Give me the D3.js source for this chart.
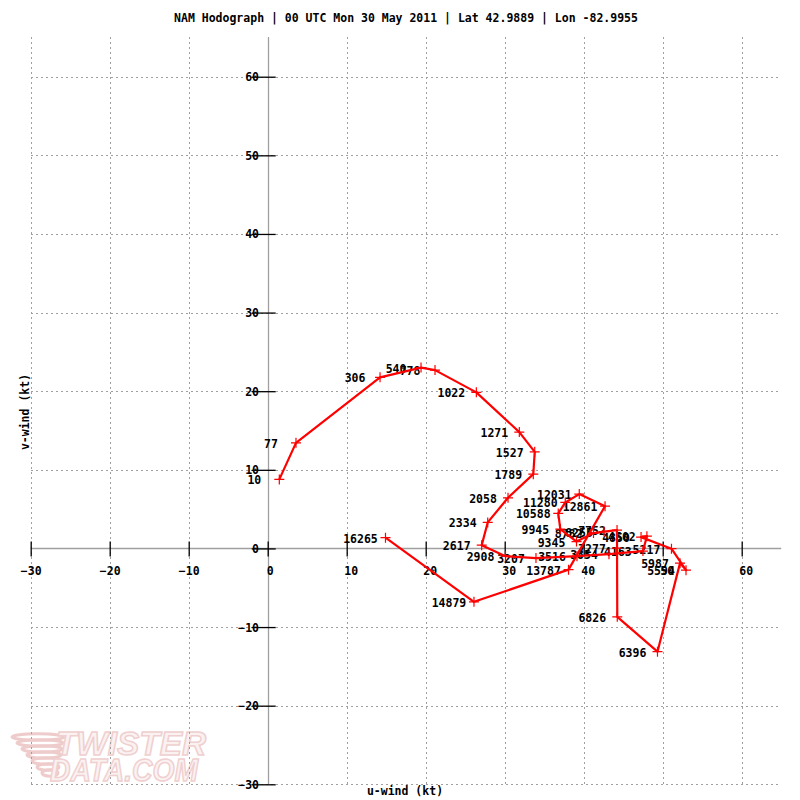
<!DOCTYPE html>
<html><head><meta charset="utf-8">
<script src="https://cdn.jsdelivr.net/npm/d3@7"></script>
<style>
body{margin:0;background:#fff}
svg text{font-family:"DejaVu Sans Mono",monospace;font-weight:bold;font-size:11.5px;fill:#000}
</style>
</head><body>
<svg id="c" width="800" height="800"></svg>
<script>
// ---- data ----
const heights = ["10","77","306","540","778","1022","1271","1527","1789","2058","2334","2617","2908","3207","3516","3854","4163","4502","4850","5217","5594","5987","6396","6826","7277","7752","8255","8782","9345","9945","10588","11280","12031","12861","13787","14879","16265"];
const uWind = [1.47,3.58,14.22,19.41,21.18,26.41,31.85,33.8,33.62,30.42,27.85,27.09,30.1,33.96,39.15,43.2,47.5,48.0,47.26,51.11,52.95,52.19,49.34,44.25,44.22,44.22,42.57,41.24,39.09,37.04,36.78,37.67,39.44,42.7,38.08,26.11,14.91];
const vWind = [8.78,13.43,21.76,23.0,22.68,19.85,14.8,12.29,9.45,6.44,3.31,0.42,-0.98,-1.23,-0.98,-0.73,-0.34,1.56,1.44,-0.03,-2.76,-1.87,-13.13,-8.7,0.04,2.33,2.14,1.95,0.87,2.46,4.45,5.85,6.91,5.38,-2.7,-6.79,1.37];
const xTicks = [-30,-20,-10,0,10,20,30,40,50,60];
const yTicks = [-30,-20,-10,0,10,20,30,40,50,60];
const titleText = "NAM Hodograph | 00 UTC Mon 30 May 2011 | Lat 42.9889 | Lon -82.9955";
const xTitle = "u-wind (kt)";
const yTitle = "v-wind (kt)";

const pts = heights.map((h,i)=>({h, u:uWind[i], v:vWind[i]}));

const svg = d3.select("#c");
const x = d3.scaleLinear().domain([-30,65]).range([30.7,781.2]);
const y = d3.scaleLinear().domain([-30,65]).range([784.3,37.4]);

// watermark
const wm = svg.append("g").attr("opacity",0.55);
[[737,26],[743,23],[749,20],[755,17],[761,14],[767,11],[773,8]].forEach(([cy,rx],i)=>{
  wm.append("ellipse").attr("cx",38+i*2).attr("cy",cy).attr("rx",rx).attr("ry",3.2)
    .attr("fill","none").attr("stroke","#e3a3a3").attr("stroke-width",3);
});
wm.append("text").text("TWISTER").attr("x",56).attr("y",755)
  .attr("textLength",150).attr("lengthAdjust","spacingAndGlyphs")
  .style("font-family","Liberation Sans").style("font-style","italic").style("font-weight","bold")
  .style("font-size","33px").style("fill","#f7e6e6").style("stroke","#e3a9a9").style("stroke-width","1.5");
wm.append("text").text("DATA.COM").attr("x",50).attr("y",781)
  .attr("textLength",148).attr("lengthAdjust","spacingAndGlyphs")
  .style("font-family","Liberation Sans").style("font-style","italic").style("font-weight","bold")
  .style("font-size","31px").style("fill","#f7e6e6").style("stroke","#e3a9a9").style("stroke-width","1.5");

// grid
const grid = svg.append("g").attr("stroke","#a0a0a0").attr("stroke-width",1)
  .attr("stroke-dasharray","2,3").attr("shape-rendering","crispEdges");
grid.selectAll("line.gx").data(xTicks).join("line").attr("class","gx")
  .attr("x1",d=>Math.round(x(d))+0.5).attr("x2",d=>Math.round(x(d))+0.5)
  .attr("y1",y(65)).attr("y2",y(-30));
grid.selectAll("line.gy").data(yTicks).join("line").attr("class","gy")
  .attr("y1",d=>Math.round(y(d))+0.5).attr("y2",d=>Math.round(y(d))+0.5)
  .attr("x1",x(-30)).attr("x2",x(65));

// zero axes
svg.append("line").attr("x1",x(-30)).attr("x2",x(65))
  .attr("y1",Math.round(y(0))+0.5).attr("y2",Math.round(y(0))+0.5)
  .attr("stroke","#a0a0a0").attr("stroke-width",1.3);
svg.append("line").attr("y1",y(65)).attr("y2",y(-30))
  .attr("x1",Math.round(x(0))+0.5).attr("x2",Math.round(x(0))+0.5)
  .attr("stroke","#a0a0a0").attr("stroke-width",1.3);

// x axis ticks & labels
const gx = svg.append("g").attr("transform",`translate(0,${y(0)-7})`)
  .call(d3.axisBottom(x).tickValues(xTicks).tickSize(15).tickPadding(8).tickFormat(d3.format("d")));
gx.select(".domain").remove();
gx.selectAll(".tick line").attr("stroke","#000").attr("stroke-width",1.3);
gx.selectAll(".tick text").attr("dx",d=>d>0?4:(d===0?2:0)).attr("dy","0.9em")
  .style("font-family","DejaVu Sans Mono").style("font-size","11.5px").style("font-weight","bold").attr("fill","#000");

// y axis ticks & labels
const gy = svg.append("g").attr("transform",`translate(${x(0)+8},0)`)
  .call(d3.axisLeft(y).tickValues(yTicks).tickSize(24).tickPadding(-7.3).tickFormat(d3.format("d")));
gy.select(".domain").remove();
gy.selectAll(".tick line").attr("stroke","#000").attr("stroke-width",1.3);
gy.selectAll(".tick text").attr("dy","0.35em")
  .style("font-family","DejaVu Sans Mono").style("font-size","11.5px").style("font-weight","bold").attr("fill","#000");

// point labels
svg.append("g").selectAll("text").data(pts).join("text")
  .attr("x",d=>x(d.u)-25).attr("y",d=>y(d.v)+1)
  .attr("text-anchor","middle").attr("dy","0.35em").text(d=>d.h);

// hodograph line
const line = d3.line().x(d=>x(d.u)).y(d=>y(d.v));
svg.append("path").datum(pts).attr("d",line).attr("fill","none")
  .attr("stroke","#ff0000").attr("stroke-width",2.2).attr("stroke-linejoin","round");

// markers
const mk = svg.append("g").attr("stroke","#ff0000").attr("stroke-width",1.2);
mk.selectAll("path").data(pts).join("path")
  .attr("d",d=>{const px=x(d.u), py=y(d.v); return `M${px-5},${py}H${px+5}M${px},${py-5}V${py+5}`;});

// titles
svg.append("text").attr("x",406).attr("y",18).attr("text-anchor","middle").attr("dy","0.35em").text(titleText);
svg.append("text").attr("x",405).attr("y",791).attr("text-anchor","middle").attr("dy","0.35em").text(xTitle);
svg.append("text").attr("transform","translate(25,412) rotate(-90)").attr("text-anchor","middle").attr("dy","0.35em").text(yTitle);
</script>
</body></html>
